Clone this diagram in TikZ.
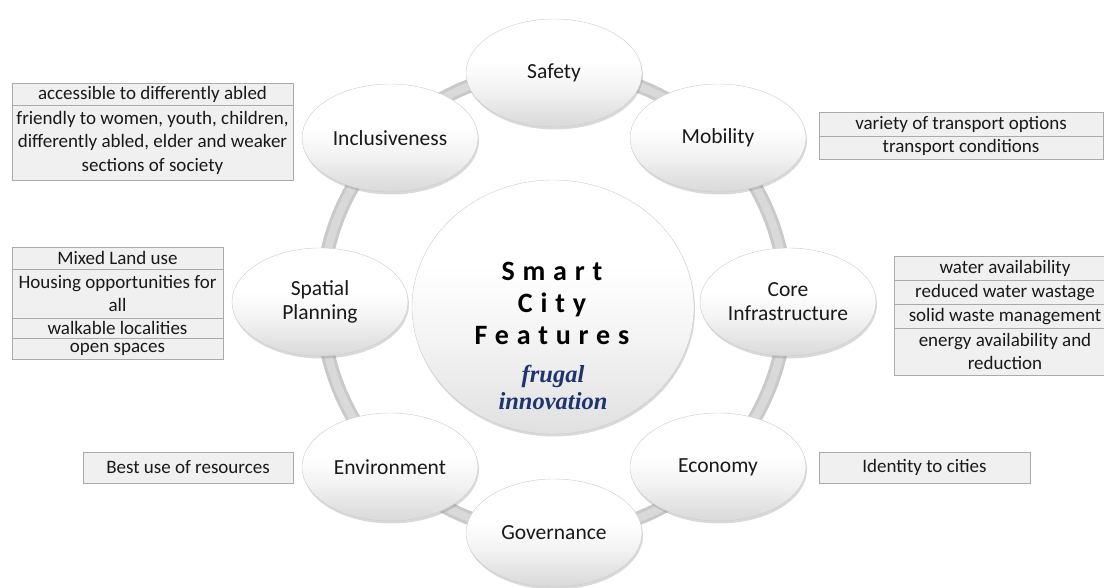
\documentclass[tikz,border=0pt]{standalone}
\usepackage{fontspec}
\setmainfont{Carlito}
\newfontfamily\titlefont[LetterSpace=28]{Carlito}
\newfontfamily\frugalfont{Liberation Serif}
\usetikzlibrary{shapes.geometric,shadows}
\definecolor{navy}{RGB}{30,52,112}
\pgfdeclareverticalshading{featshade}{100bp}{color(0bp)=(black!15); color(25bp)=(black!15); color(42bp)=(black!5); color(55bp)=(white); color(100bp)=(white)}
\pgfdeclareverticalshading{hubshade}{100bp}{color(0bp)=(black!12); color(25bp)=(black!12); color(45bp)=(black!4); color(58bp)=(white); color(100bp)=(white)}
\begin{document}
\begin{tikzpicture}[x=1pt,y=-1pt,
  feat/.style={ellipse, minimum width=176pt, minimum height=108pt, inner sep=0pt,
    draw=black!20, shading=featshade,
    drop shadow={shadow xshift=1pt, shadow yshift=-2.5pt, opacity=0.3, fill=black!50},
    font=\fontsize{21.5}{24}\selectfont, text=black!90, align=center},
  hubstyle/.style={ellipse, minimum width=282pt, minimum height=254pt, inner sep=0pt,
    draw=black!20, shading=hubshade,
    drop shadow={shadow xshift=1pt, shadow yshift=-2.5pt, opacity=0.3, fill=black!50}},
  cell/.style={draw=black!33, fill=black!6, inner sep=0pt, align=center,
    font=\fontsize{19}{23.5}\selectfont, text=black!90},
  ringouter/.style={draw=black!21, line width=14pt},
  ringinner/.style={draw=black!15, line width=8pt},
]
\useasboundingbox (0,0) rectangle (1104,588);
\coordinate (ringc) at (554,302);
\draw[ringouter] (ringc) circle[radius=232pt];
\draw[ringinner] (ringc) circle[radius=232pt];

% centre
\node[hubstyle] (hub) at (553,307) {};
\node[font=\titlefont\bfseries\fontsize{28}{32}\selectfont, align=center] (title) at (552,303) {Smart\\City\\Features};
\node[font=\frugalfont\bfseries\itshape\fontsize{24.5}{27}\selectfont, text=navy, align=center] (frugal) at (553,387) {frugal\\innovation};

% features
\node[feat] (safety) at (554,73) {Safety};
\node[feat] (mobility) at (718,138) {Mobility};
\node[feat] (core) at (788,302) {Core\\Infrastructure};
\node[feat] (economy) at (718,467) {Economy};
\node[feat] (governance) at (554,533) {Governance};
\node[feat] (environment) at (390,467) {Environment};
\node[feat] (spatial) at (320,302) {Spatial\\Planning};
\node[feat] (inclusiveness) at (390,138) {Inclusiveness};

% inclusiveness box
\node[cell, anchor=north, minimum width=281pt, minimum height=22pt] (inc1) at (152.5,83) {accessible to differently abled};
\node[cell, anchor=north, minimum width=281pt, minimum height=75pt] (inc2) at (152.5,105) {friendly to women, youth, children,\\differently abled, elder and weaker\\sections of society};

% mobility box
\node[cell, anchor=north, minimum width=284pt, minimum height=24pt] (mob1) at (961,112) {variety of transport options};
\node[cell, anchor=north, minimum width=284pt, minimum height=23pt] (mob2) at (961,136) {transport conditions};

% spatial planning box
\node[cell, anchor=north, minimum width=211pt, minimum height=22pt] (sp1) at (117.5,247) {Mixed Land use};
\node[cell, anchor=north, minimum width=211pt, minimum height=49pt] (sp2) at (117.5,269) {Housing opportunities for\\all};
\node[cell, anchor=north, minimum width=211pt, minimum height=20.5pt] (sp3) at (117.5,318) {walkable localities};
\node[cell, anchor=north, minimum width=211pt, minimum height=20.5pt] (sp4) at (117.5,338.5) {open spaces};

% core infrastructure box
\node[cell, anchor=north, minimum width=222pt, minimum height=24pt] (core1) at (1005,256) {water availability};
\node[cell, anchor=north, minimum width=222pt, minimum height=24pt] (core2) at (1005,280) {reduced water wastage};
\node[cell, anchor=north, minimum width=222pt, minimum height=24pt] (core3) at (1005,304) {solid waste management};
\node[cell, anchor=north, minimum width=222pt, minimum height=47pt] (core4) at (1005,328) {energy availability and\\reduction};

% economy and environment boxes
\node[cell, minimum width=211pt, minimum height=31pt] (econ1) at (924.5,467.5) {Identity to cities};
\node[cell, minimum width=210pt, minimum height=31pt] (env1) at (188,467.5) {Best use of resources};
\end{tikzpicture}
\end{document}
